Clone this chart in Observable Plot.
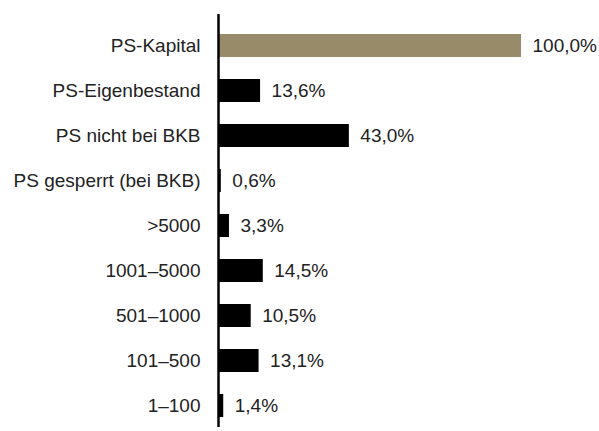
<!DOCTYPE html>
<html><head><meta charset="utf-8">
<script src="https://cdn.jsdelivr.net/npm/d3@7"></script>
<script src="https://cdn.jsdelivr.net/npm/@observablehq/plot@0.6"></script>
<style>
body{margin:0;background:#fff;}
#chart svg{display:block;}
</style>
</head><body><div id="chart"></div>
<script>
const categories = ["PS-Kapital","PS-Eigenbestand","PS nicht bei BKB","PS gesperrt (bei BKB)",">5000","1001–5000","501–1000","101–500","1–100"];
const values = [100.0,13.6,43.0,0.6,3.3,14.5,10.5,13.1,1.4];
const highlight = ["PS-Kapital"];

const data = categories.map((c,i)=>({cat:c, v:values[i]}));
const fmt = v => v.toFixed(1).replace(".", ",") + "%";
const font = "'Liberation Sans', Arial, sans-serif";

const chart = Plot.plot({
  width: 599, height: 431,
  marginLeft: 219, marginRight: 78, marginTop: 14, marginBottom: 4,
  style: {fontFamily: font, fontSize: "19px", color: "#222", background: "#fff"},
  x: {domain: [0,100], axis: null},
  y: {domain: categories, paddingInner: 0.49, paddingOuter: 0.309, align: 0.66, label: null, tickSize: 0, tickPadding: 19},
  marks: [
    Plot.barX(data, {y:"cat", x:"v", fill: d => highlight.includes(d.cat) ? "#978b6a" : "#000"}),
    Plot.text(data, {y:"cat", x:"v", text: d => fmt(d.v), textAnchor:"start", dx: 11, fill:"#222", fontSize: 19}),
    Plot.ruleX([0], {stroke:"#000", strokeWidth: 2.5, dx: -1}),
    Plot.axisY({tickSize:0, tickPadding:19, fontSize:19, label:null, fill:"#222"})
  ]
});
document.getElementById("chart").append(chart);
</script></body></html>
